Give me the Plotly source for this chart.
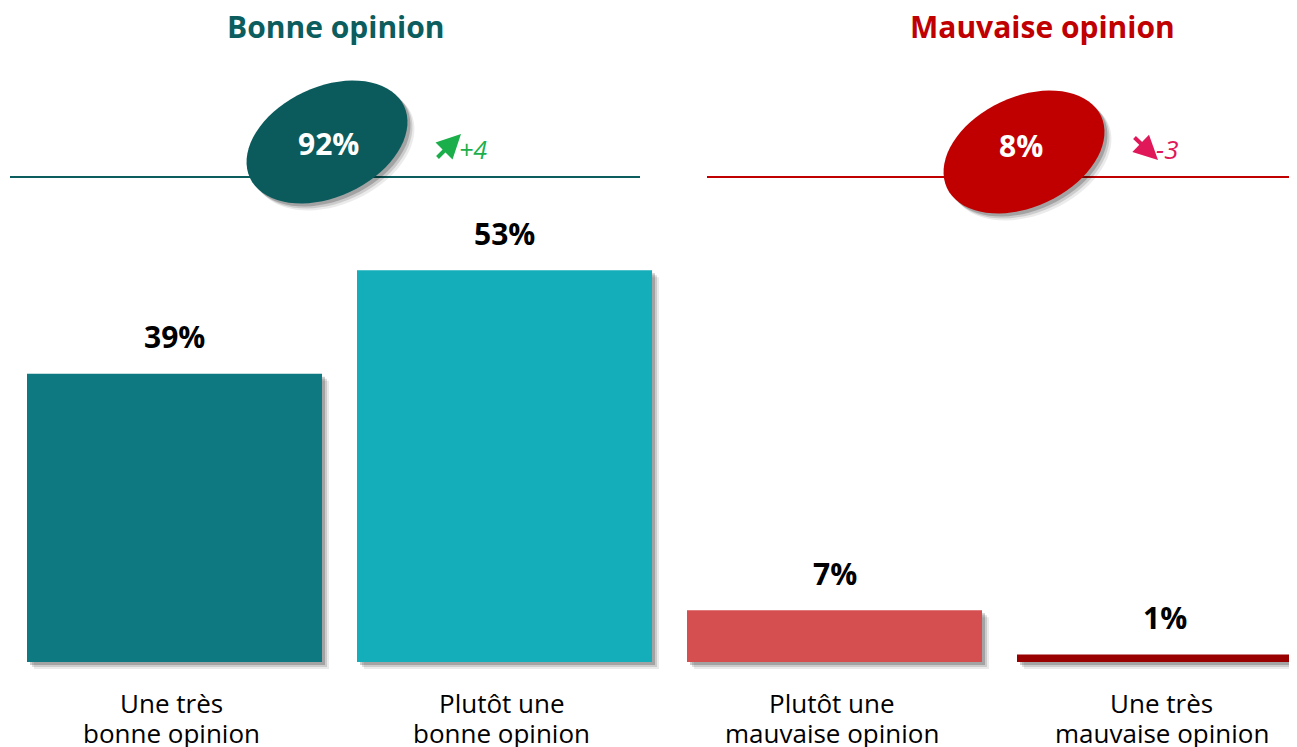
import numpy as np
import plotly.graph_objects as go

categories = ["Une très<br>bonne opinion", "Plutôt une<br>bonne opinion",
              "Plutôt une<br>mauvaise opinion", "Une très<br>mauvaise opinion"]
values = [39, 53, 7, 1]
value_labels = ["39%", "53%", "7%", "1%"]
bar_colors = ["#0F7981", "#13AEBA", "#D54F51", "#990000"]
group_titles = ["Bonne opinion", "Mauvaise opinion"]
group_totals = ["92%", "8%"]
group_changes = ["+4", "-3"]

W, H = 1297, 747
OFF = 8  # page body margin
PX_PER_UNIT = 7.39
BASE_PX = 662
C0, STEP = 174.5, 330.0

x_idx = list(range(len(categories)))
xr = [(OFF - C0) / STEP, (OFF + W - C0) / STEP]
yr = [(BASE_PX - (H + OFF)) / PX_PER_UNIT, (BASE_PX - OFF) / PX_PER_UNIT]

def px(x):
    return (x - OFF) / W

def py(y):
    return 1 - (y - OFF) / H

fig = go.Figure()
bw = 295 / STEP
# shadow layers
for dx, alpha in [(7, 0.08), (5, 0.13), (3, 0.2)]:
    fig.add_trace(go.Bar(
        x=x_idx, y=[v for v in values], base=[-dx / PX_PER_UNIT] * len(values),
        width=bw, offset=-bw / 2 + dx / STEP,
        marker=dict(color=f"rgba(0,0,0,{alpha})", line=dict(width=0)),
        hoverinfo="skip", showlegend=False))
fig.add_trace(go.Bar(
    x=x_idx, y=values, width=bw,
    marker=dict(color=bar_colors, line=dict(width=0)),
    showlegend=False))

FONT = "Open Sans"
annotations = []
for i, (v, lab) in enumerate(zip(values, value_labels)):
    annotations.append(dict(x=i, y=v, xref="x", yref="y", text=f"<b>{lab}</b>",
                            showarrow=False, xanchor="center", yanchor="middle", yshift=37,
                            font=dict(family=FONT, size=30, color="black")))
    for j, line in enumerate(categories[i].split("<br>")):
        annotations.append(dict(x=i, y=0, xref="x", yref="y", text=line,
                                showarrow=False, xanchor="center", yanchor="middle",
                                yshift=-(41 + 30 * j), xshift=-3,
                                font=dict(family=FONT, size=26, color="black")))

# titles
annotations.append(dict(x=px(336), y=py(27), xref="paper", yref="paper",
                        xanchor="center", yanchor="middle",
                        text=f"<b>{group_titles[0]}</b>", showarrow=False,
                        font=dict(family=FONT, size=30, color="#0B5D5E")))
annotations.append(dict(x=px(1042), y=py(27), xref="paper", yref="paper",
                        xanchor="center", yanchor="middle",
                        text=f"<b>{group_titles[1]}</b>", showarrow=False,
                        font=dict(family=FONT, size=30, color="#C00000")))

shapes = []
# horizontal lines
shapes.append(dict(type="line", xref="paper", yref="paper", x0=px(10), x1=px(640),
                   y0=py(177), y1=py(177), line=dict(color="#0B5D5E", width=2), layer="below"))
shapes.append(dict(type="line", xref="paper", yref="paper", x0=px(707), x1=px(W + OFF),
                   y0=py(177), y1=py(177), line=dict(color="#C00000", width=2), layer="below"))

def ellipse_path(cx, cy, a, b, ang_deg):
    t = np.linspace(0, 2 * np.pi, 73)
    ang = np.deg2rad(ang_deg)
    xs = cx + a * np.cos(t) * np.cos(ang) - b * np.sin(t) * np.sin(ang)
    ys = cy + a * np.cos(t) * np.sin(ang) + b * np.sin(t) * np.cos(ang)
    pts = [f"{px(x):.5f},{py(y):.5f}" for x, y in zip(xs, ys)]
    return "M" + " L".join(pts) + " Z"

for (cx, cy, col) in [(327, 142, "#0B5B5D"), (1024, 152, "#C00000")]:
    for dx, alpha in [(7, 0.08), (5, 0.13), (3, 0.2)]:
        shapes.append(dict(type="path", xref="paper", yref="paper",
                           path=ellipse_path(cx + dx, cy + dx, 85, 55, -25),
                           fillcolor=f"rgba(0,0,0,{alpha})", line=dict(width=0)))
    shapes.append(dict(type="path", xref="paper", yref="paper",
                       path=ellipse_path(cx, cy, 85, 55, -25),
                       fillcolor=col, line=dict(width=0)))

annotations.append(dict(x=px(328), y=py(143), xref="paper", yref="paper",
                        xanchor="center", yanchor="middle",
                        text=f"<b>{group_totals[0]}</b>", showarrow=False,
                        font=dict(family=FONT, size=30, color="white")))
annotations.append(dict(x=px(1021), y=py(146), xref="paper", yref="paper",
                        xanchor="center", yanchor="middle",
                        text=f"<b>{group_totals[1]}</b>", showarrow=False,
                        font=dict(family=FONT, size=30, color="white")))

# change arrows
annotations.append(dict(x=px(461), y=py(134), ax=-25, ay=25,
                        xref="paper", yref="paper",
                        text="", showarrow=True, arrowhead=2, arrowsize=1.2,
                        arrowwidth=4, arrowcolor="#1BAF4B"))
annotations.append(dict(x=px(457), y=py(149), xref="paper", yref="paper",
                        xanchor="left", yanchor="middle",
                        text=f"<i>{group_changes[0]}</i>", showarrow=False,
                        font=dict(family=FONT, size=25, color="#1BAF4B")))
annotations.append(dict(x=px(1158), y=py(160), ax=-25, ay=-24,
                        xref="paper", yref="paper",
                        text="", showarrow=True, arrowhead=2, arrowsize=1.2,
                        arrowwidth=4, arrowcolor="#E0185A"))
annotations.append(dict(x=px(1154), y=py(149), xref="paper", yref="paper",
                        xanchor="left", yanchor="middle",
                        text=f"<i>{group_changes[1]}</i>", showarrow=False,
                        font=dict(family=FONT, size=26, color="#E0185A")))

fig.update_layout(
    width=W, height=H, margin=dict(l=0, r=0, t=0, b=0),
    paper_bgcolor="white", plot_bgcolor="white", barmode="overlay",
    xaxis=dict(range=xr, visible=False, fixedrange=True),
    yaxis=dict(range=yr, visible=False, fixedrange=True),
    annotations=annotations, shapes=shapes, showlegend=False,
)
fig.write_html("out.html", config={"displayModeBar": False})
